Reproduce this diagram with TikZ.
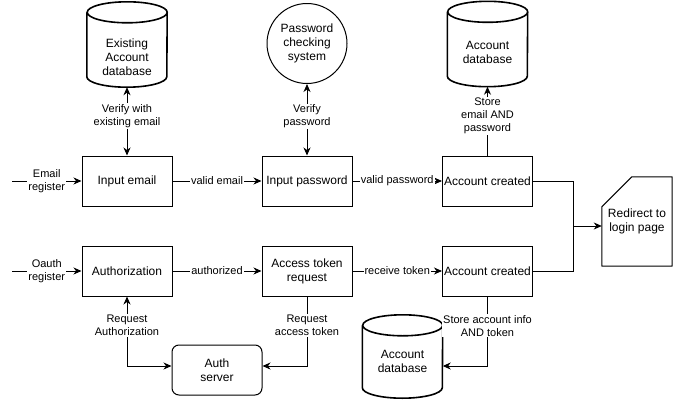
\documentclass[tikz,border=0pt]{standalone}
\usepackage{fontspec}
\setmainfont{Liberation Sans}
\usetikzlibrary{arrows.meta}
\newcommand\drawcyl[1]{%
  \draw[cylline] ([yshift=-10.5pt]#1.north west) -- ([yshift=10.5pt]#1.south west)
    arc[start angle=180,end angle=360,x radius=40pt,y radius=10.5pt]
    -- ([yshift=-10.5pt]#1.north east)
    arc[start angle=0,end angle=180,x radius=40pt,y radius=10.5pt]
    arc[start angle=180,end angle=360,x radius=40pt,y radius=10.5pt];}
\begin{document}
\begin{tikzpicture}[x=1pt,y=-1pt,
  box/.style={draw, line width=1pt, minimum width=90pt, minimum height=50pt, inner sep=0pt, align=center, font=\fontsize{12}{14}\selectfont},
  rbox/.style={box, rounded corners=7pt},
  dbshape/.style={draw=none, minimum width=80pt, minimum height=85pt, inner sep=0pt},
  dbtext/.style={align=center, inner sep=0pt, font=\fontsize{12}{14}\selectfont},
  cylline/.style={line width=1.6pt, line join=round},
  circ/.style={draw, circle, line width=1pt, minimum size=80pt, inner sep=0pt, align=center, font=\fontsize{12}{14}\selectfont},
  cardshape/.style={draw=none, minimum width=70pt, minimum height=89pt, inner sep=0pt, align=center, font=\fontsize{12}{14}\selectfont},
  conn/.style={line width=1pt},
  arr/.style={conn, -{Stealth[length=8pt,width=7pt,inset=2.5pt]}},
  biarr/.style={conn, {Stealth[length=8pt,width=7pt,inset=2.5pt]}-{Stealth[length=8pt,width=7pt,inset=2.5pt]}},
  elabel/.style={fill=white, inner sep=1pt, align=center, font=\fontsize{11}{13}\selectfont}
]
\useasboundingbox (0,0) rectangle (678,402);

% main boxes
\node[box] (ie) at (127,181) {Input email};
\node[box] (ip) at (307,181) {Input password};
\node[box] (ac1) at (487.5,181) {Account created};
\node[box] (au) at (127,271) {Authorization};
\node[box] (atr) at (307,271) {Access token\\request};
\node[box] (ac2) at (487.5,271) {Account created};
\node[rbox] (auth) at (217,370) {Auth\\server};

% databases
\node[dbshape] (db1) at (127,44.5) {};
\drawcyl{db1}
\node[dbtext] (db1t) at (127,57) {Existing\\Account\\database};

\node[dbshape] (db2) at (487.5,44) {};
\drawcyl{db2}
\node[dbtext] (db2t) at (487.5,52) {Account\\database};

\node[dbshape, minimum height=83pt] (db3) at (402.5,356.5) {};
\drawcyl{db3}
\node[dbtext] (db3t) at (402.5,361) {Account\\database};

% password checking system
\node[circ] (pcs) at (307,43.5) {Password\\checking\\system};

% redirect card
\node[cardshape] (rd) at (637,221.5) {Redirect to\\login page};
\draw[line width=1pt, line join=round] (rd.south west) -- ([yshift=-30pt]rd.north west) -- ([xshift=30pt]rd.north west) -- (rd.north east) -- (rd.south east) -- cycle;

% inputs
\coordinate (es) at (12,181);
\coordinate (os) at (12,271);
\draw[arr] (es) -- node[elabel] (l0) {Email\\register} (ie.west);
\draw[arr] (os) -- node[elabel] (l1) {Oauth\\register} (au.west);

% top row
\draw[arr] (ie.east) -- node[elabel] (l2) {valid email} (ip.west);
\draw[arr] (ip.east) -- node[elabel] (l3) {valid password} (ac1.west);
\draw[biarr] (ie.north) -- node[elabel, pos=0.58] (l4) {Verify with\\existing email} (db1.south);
\draw[biarr] (ip.north) -- node[elabel, pos=0.55] (l5) {Verify\\password} (pcs.south);
\draw[arr] (ac1.north) -- node[elabel, pos=0.57] (l6) {Store\\email AND\\password} (db2.south);

% bottom row
\draw[arr] (au.east) -- node[elabel] (l7) {authorized} (atr.west);
\draw[arr] (atr.east) -- node[elabel] (l8) {receive token} (ac2.west);
\draw[biarr] (au.south) |- node[elabel, pos=0.21] (l9) {Request\\Authorization} ([yshift=4pt]auth.west);
\draw[arr] (atr.south) |- node[elabel, pos=0.21] (l10) {Request\\access token} ([yshift=4pt]auth.east);
\draw[arr] (ac2.south) |- node[elabel, pos=0.21] (l11) {Store account info\\AND token} ([yshift=-9.5pt]db3.east);

% merge to redirect
\coordinate (jn) at (573,226);
\draw[conn] (ac1.east) -| (jn);
\draw[conn] (ac2.east) -| (jn);
\draw[arr] (jn) -- (jn -| rd.west);
\end{tikzpicture}
\end{document}
